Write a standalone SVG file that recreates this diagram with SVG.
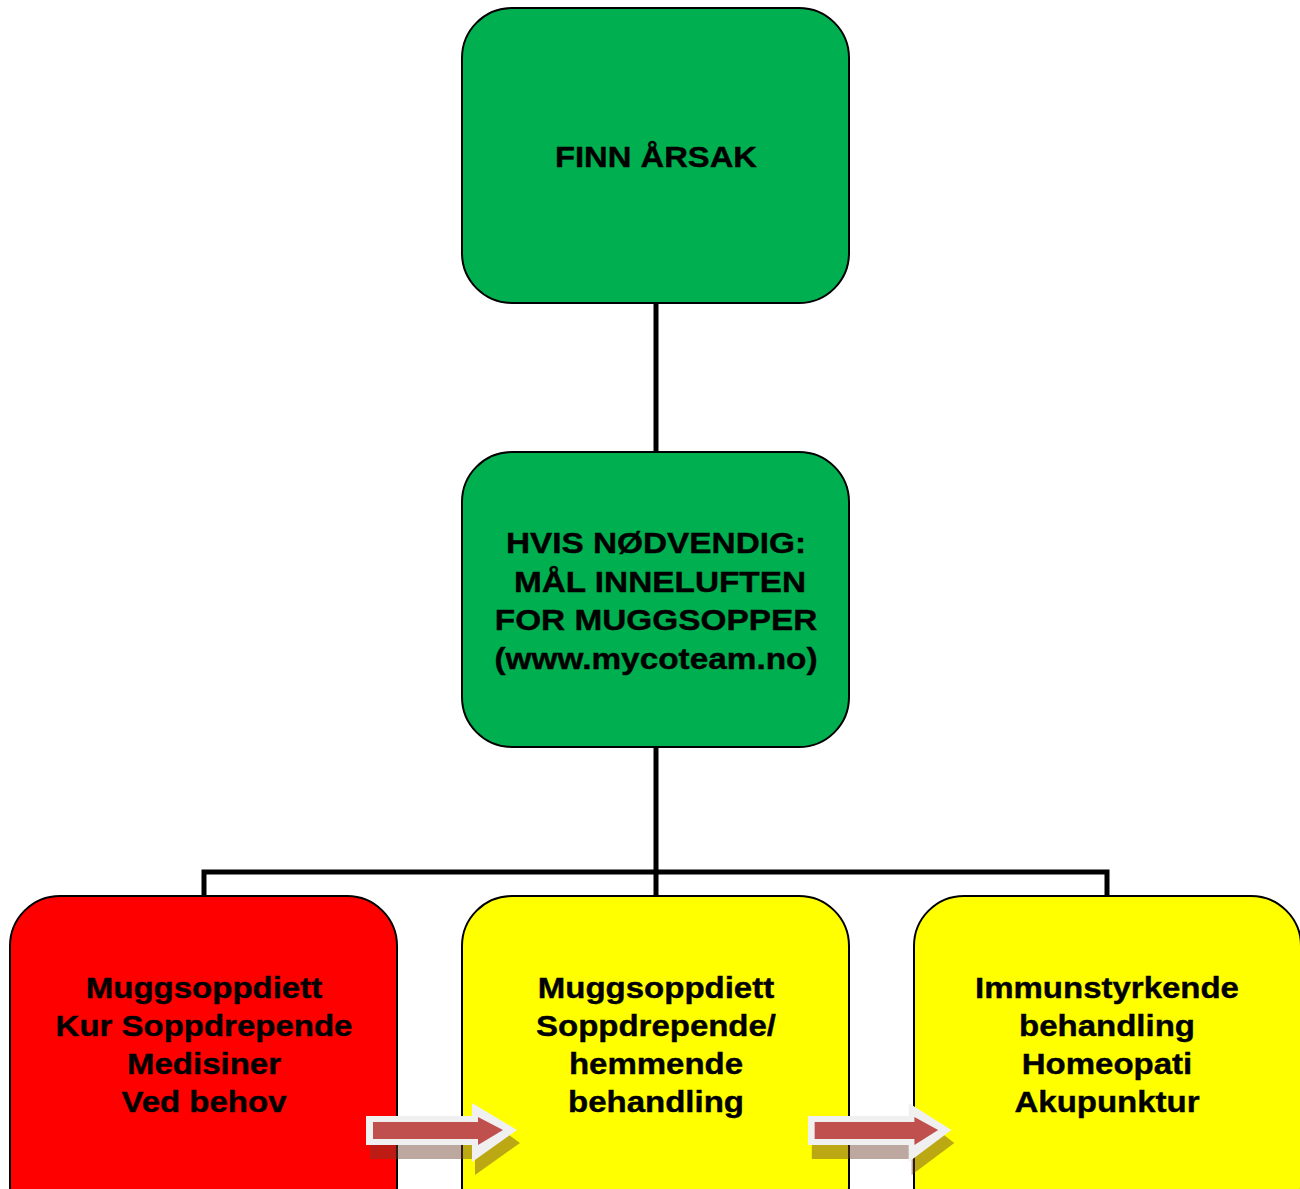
<svg xmlns="http://www.w3.org/2000/svg" width="1300" height="1189" viewBox="0 0 1300 1189">
<style>
.box{stroke:#000;stroke-width:2}
.g{fill:#00B050}.r{fill:#FF0000}.y{fill:#FFFF00}
.t{font-family:"Liberation Sans",Arial,sans-serif;font-weight:bold;font-size:29px;text-anchor:middle;fill:#000;stroke:#000;stroke-width:0.4}
.t2{font-family:"Liberation Sans",Arial,sans-serif;font-weight:bold;font-size:30px;text-anchor:middle;fill:#000;stroke:#000;stroke-width:0.4}
.conn{fill:none;stroke:#000;stroke-width:5}
</style>
<defs>
<g id="arrowA">
<polygon points="0,5 0,36 105,36 105,52 150,20 105,-13 105,5" fill="#6b3f2a" opacity="0.45" transform="translate(4,7)"/>
<polygon points="0,0 0,29 106,29 106,46 151,14 106,-13 106,0" fill="#f0f0f0"/>
<polygon points="7,6 7,23 112,23 112,29 137,14 112,1 112,6" fill="#C0504D"/>
</g>
</defs>
<g id="connectors">
<line class="conn" x1="656" y1="303" x2="656" y2="452"/>
<polyline class="conn" points="656,747 656,896"/>
<polyline class="conn" points="204,896 204,872 1107,872 1107,896"/>
</g>
<g id="node-finn">
<rect class="box g" x="462" y="8" width="387" height="295" rx="50" ry="50"/>
<text class="t" transform="translate(656,167) scale(1.13,1)">FINN ÅRSAK</text>
</g>
<g id="node-hvis">
<rect class="box g" x="462" y="452" width="387" height="295" rx="50" ry="50"/>
<g class="t">
<text transform="translate(656,553) scale(1.15,1)">HVIS NØDVENDIG:</text>
<text transform="translate(660,591.5) scale(1.15,1)">MÅL INNELUFTEN</text>
<text transform="translate(656,630) scale(1.15,1)">FOR MUGGSOPPER</text>
<text transform="translate(656,668.5) scale(1.15,1)">(www.mycoteam.no)</text>
</g>
</g>
<g id="node-red">
<rect class="box r" x="10" y="896" width="387" height="340" rx="50" ry="50"/>
<g class="t2">
<text transform="translate(204,997.5) scale(1.1,1)">Muggsoppdiett</text>
<text transform="translate(204,1036) scale(1.1,1)">Kur Soppdrepende</text>
<text transform="translate(204,1074) scale(1.1,1)">Medisiner</text>
<text transform="translate(204,1112) scale(1.1,1)">Ved behov</text>
</g>
</g>
<g id="node-yellow1">
<rect class="box y" x="462" y="896" width="387" height="340" rx="50" ry="50"/>
<g class="t2">
<text transform="translate(656,997.5) scale(1.1,1)">Muggsoppdiett</text>
<text transform="translate(656,1036) scale(1.1,1)">Soppdrepende/</text>
<text transform="translate(656,1074) scale(1.1,1)">hemmende</text>
<text transform="translate(656,1112) scale(1.1,1)">behandling</text>
</g>
</g>
<g id="node-yellow2">
<rect class="box y" x="914" y="896" width="387" height="340" rx="50" ry="50"/>
<g class="t2">
<text transform="translate(1107,997.5) scale(1.1,1)">Immunstyrkende</text>
<text transform="translate(1107,1036) scale(1.1,1)">behandling</text>
<text transform="translate(1107,1074) scale(1.1,1)">Homeopati</text>
<text transform="translate(1107,1112) scale(1.1,1)">Akupunktur</text>
</g>
</g>
<g id="arrows">
<use href="#arrowA" transform="translate(366,1116)"/>
<use href="#arrowA" transform="translate(808,1116) scale(0.95,1)"/>
</g>
</svg>
